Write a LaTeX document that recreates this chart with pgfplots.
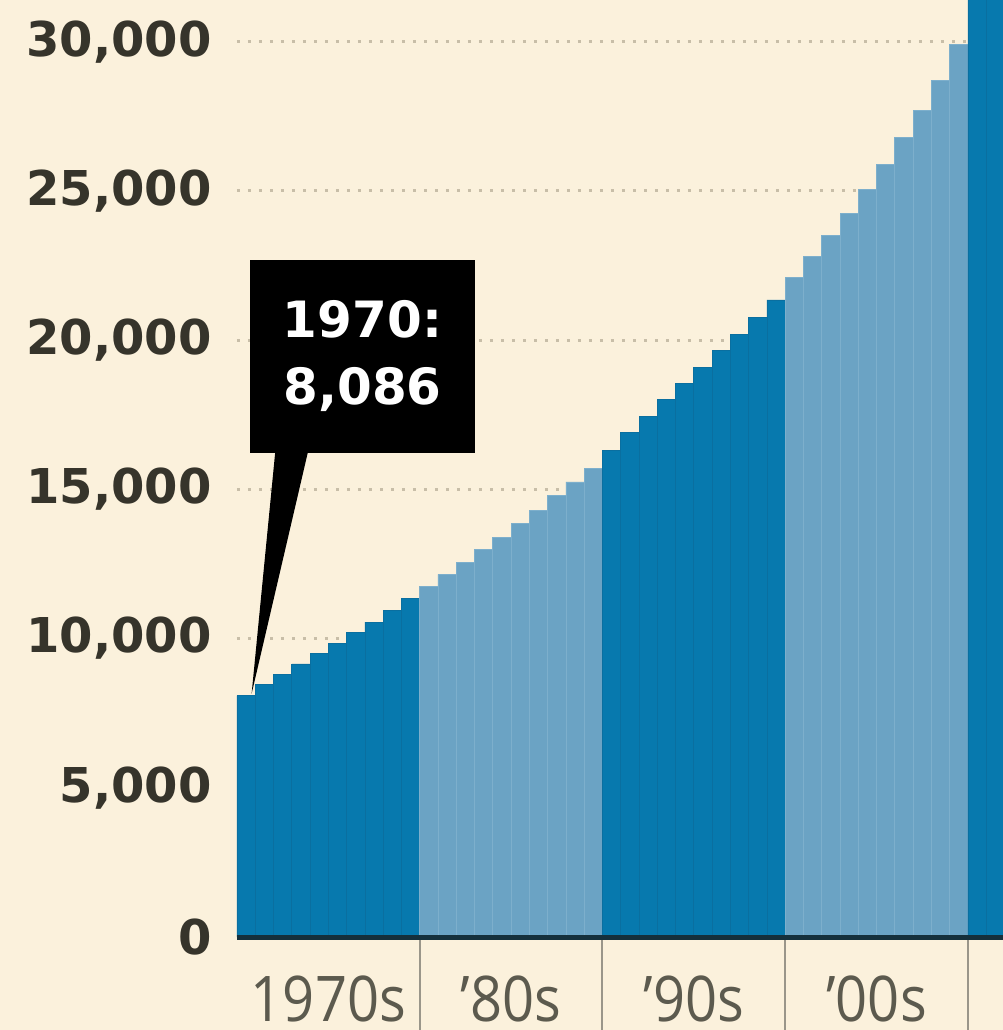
\documentclass[border=0pt]{standalone}
\usepackage{fontspec}
\setmainfont{DejaVu Sans}
\newfontfamily\xlabfont[FakeStretch=0.89]{Open Sans}
\usepackage{pgfplots}
\pgfplotsset{compat=1.18}
\definecolor{bg}{HTML}{FBF1DC}
\definecolor{darkbar}{HTML}{0779AE}
\definecolor{darkedge}{HTML}{0A6FA0}
\definecolor{lightbar}{HTML}{6BA3C4}
\definecolor{lightedge}{HTML}{7DAFCC}
\definecolor{gridc}{HTML}{C8BEA8}
\definecolor{axisc}{HTML}{15303C}
\definecolor{labc}{HTML}{36342B}
\definecolor{xlabc}{HTML}{5C5A4E}
\definecolor{sepc}{HTML}{9A968A}
\tikzset{declab/.style={anchor=north, inner sep=0pt, yshift=-19pt, text=xlabc,
    font=\xlabfont\fontsize{31.5}{36}\selectfont}}
\begin{document}
\begin{tikzpicture}
\useasboundingbox[fill=bg] (-118.5pt,-46.5pt) rectangle (383pt,468.5pt);
\begin{axis}[
  at={(0,0)}, anchor=south west, scale only axis,
  width=383pt, height=468.5pt,
  xmin=1970, xmax=2011.92, ymin=0, ymax=31400,
  clip mode=individual,
  axis line style={draw=none},
  xtick={1980,1990,2000,2010}, xticklabels={},
  xtick align=outside, ytick align=inside,
  major tick length=46.5pt,
  x tick style={draw=sepc, line width=1pt},
  y tick style={draw=none},
  ytick={0,5000,10000,15000,20000,25000,30000},
  yticklabels={0,{5,000},{10,000},{15,000},{20,000},{25,000},{30,000}},
  yticklabel style={anchor=east, inner sep=0pt, xshift=-12.5pt,
    font=\bfseries\fontsize{24}{28}\selectfont, text=labc},
  ymajorgrids,
  major grid style={gridc, line width=1.5pt, dash pattern=on 1.5pt off 4pt},
]
\addplot[ybar interval, fill=darkbar, draw=darkedge, line width=0.4pt] coordinates {
 (1970,8086) (1971,8450) (1972,8800) (1973,9150) (1974,9500) (1975,9850)
 (1976,10200) (1977,10550) (1978,10950) (1979,11350) (1980,0)};
\addplot[ybar interval, fill=lightbar, draw=lightedge, line width=0.4pt] coordinates {
 (1980,11750) (1981,12150) (1982,12550) (1983,13000) (1984,13400) (1985,13850)
 (1986,14300) (1987,14800) (1988,15250) (1989,15700) (1990,0)};
\addplot[ybar interval, fill=darkbar, draw=darkedge, line width=0.4pt] coordinates {
 (1990,16300) (1991,16900) (1992,17450) (1993,18000) (1994,18550) (1995,19100)
 (1996,19650) (1997,20200) (1998,20750) (1999,21350) (2000,0)};
\addplot[ybar interval, fill=lightbar, draw=lightedge, line width=0.4pt] coordinates {
 (2000,22100) (2001,22800) (2002,23500) (2003,24250) (2004,25050) (2005,25900)
 (2006,26800) (2007,27700) (2008,28700) (2009,29900) (2010,0)};
\addplot[ybar interval, fill=darkbar, draw=darkedge, line width=0.4pt] coordinates {
 (2010,31500) (2011,32500) (2012,0)};
\draw[line width=2.5pt, axisc] (axis cs:1970,0) -- (axis cs:2011.92,0);
\fill[black] (axis cs:1970.8,8150) -- (axis cs:1972.1,16300) -- (axis cs:1973.9,16300) -- cycle;
\node[fill=black, text=white, minimum width=112.5pt, minimum height=96.5pt,
  align=center, inner sep=0pt,
  font=\bfseries\fontsize{25}{33.5}\selectfont] at (axis cs:1976.87,19455) {1970:\\8,086};
\node[declab] at (axis cs:1975,0) {1970s};
\node[declab] at (axis cs:1985,0) {’80s};
\node[declab] at (axis cs:1995,0) {’90s};
\node[declab] at (axis cs:2005,0) {’00s};
\end{axis}
\end{tikzpicture}
\end{document}
